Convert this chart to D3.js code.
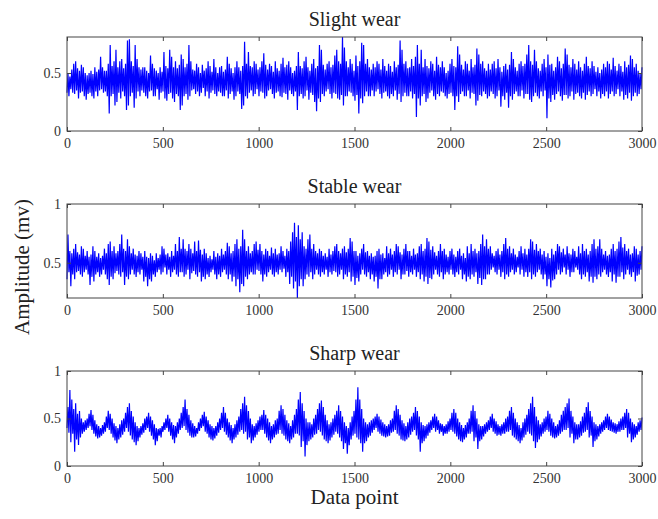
<!DOCTYPE html>
<html>
<head>
<meta charset="utf-8">
<script src="https://cdn.jsdelivr.net/npm/d3@7"></script>
<style>
    body { margin: 0; background: #fff; }
    .frame { fill: none; stroke: #444; stroke-width: 1px; }
    .axis path { display: none; }
    .axis line { stroke: #444; }
    .axis text { font-family: "Liberation Serif", serif; font-size: 14px; fill: #333; }
    .title { font-family: "Liberation Serif", serif; font-size: 20px; fill: #222; text-anchor: middle; }
    .label { font-family: "Liberation Serif", serif; font-size: 21px; fill: #222; text-anchor: middle; }
    .signal { fill: none; stroke: #0000ff; stroke-width: 1.2px; }
</style>
</head>
<body>
<svg id="chart" width="658" height="519"></svg>
<script>
    // x ticks shared by all three panels
    const xTicks = [0, 500, 1000, 1500, 2000, 2500, 3000];

    // Slight wear: min / max of each 10-point segment (one row = 200 points)
    const slightLow = [
        0.33,0.30,0.36,0.33,0.32,0.35,0.28,0.33,0.34,0.30,0.27,0.32,0.33,0.30,0.28,0.34,0.30,0.35,0.36,0.33,
        0.34,0.30,0.15,0.30,0.32,0.22,0.25,0.33,0.28,0.34,0.30,0.18,0.22,0.30,0.33,0.20,0.28,0.34,0.30,0.35,
        0.33,0.30,0.28,0.34,0.35,0.30,0.30,0.36,0.27,0.33,0.34,0.28,0.26,0.32,0.33,0.28,0.25,0.32,0.30,0.18,
        0.22,0.30,0.32,0.27,0.30,0.35,0.36,0.32,0.34,0.30,0.33,0.37,0.30,0.34,0.28,0.33,0.35,0.32,0.30,0.34,
        0.33,0.30,0.30,0.35,0.28,0.32,0.34,0.27,0.30,0.34,0.32,0.19,0.22,0.30,0.28,0.33,0.35,0.30,0.32,0.36,
        0.30,0.34,0.33,0.28,0.30,0.35,0.36,0.32,0.28,0.33,0.34,0.30,0.29,0.33,0.32,0.27,0.35,0.32,0.30,0.34,
        0.18,0.30,0.32,0.28,0.30,0.35,0.27,0.33,0.31,0.25,0.17,0.28,0.25,0.32,0.30,0.34,0.36,0.32,0.28,0.33,
        0.32,0.28,0.27,0.31,0.22,0.30,0.30,0.34,0.33,0.30,0.26,0.31,0.15,0.28,0.24,0.30,0.34,0.30,0.30,0.35,
        0.30,0.34,0.36,0.32,0.28,0.33,0.34,0.30,0.28,0.32,0.30,0.35,0.27,0.32,0.25,0.30,0.33,0.30,0.30,0.34,
        0.28,0.32,0.12,0.28,0.22,0.30,0.32,0.25,0.28,0.33,0.35,0.30,0.27,0.32,0.30,0.34,0.33,0.30,0.28,0.32,
        0.33,0.30,0.18,0.30,0.25,0.32,0.34,0.30,0.30,0.35,0.28,0.33,0.32,0.22,0.26,0.31,0.30,0.34,0.32,0.28,
        0.30,0.34,0.32,0.28,0.30,0.35,0.21,0.30,0.27,0.33,0.20,0.30,0.27,0.32,0.34,0.30,0.30,0.35,0.28,0.32,
        0.32,0.27,0.25,0.30,0.33,0.30,0.28,0.34,0.30,0.35,0.11,0.28,0.25,0.31,0.27,0.32,0.34,0.30,0.26,0.31,
        0.31,0.28,0.30,0.34,0.27,0.32,0.33,0.30,0.28,0.33,0.27,0.31,0.34,0.30,0.32,0.36,0.30,0.34,0.28,0.32,
        0.30,0.34,0.28,0.32,0.34,0.30,0.32,0.36,0.30,0.34,0.27,0.31,0.28,0.33,0.26,0.30,0.33,0.30,0.32,0.36
    ];
    const slightHigh = [
        0.50,0.47,0.53,0.58,0.60,0.54,0.52,0.57,0.55,0.50,0.48,0.50,0.52,0.49,0.55,0.51,0.53,0.64,0.55,0.52,
        0.52,0.58,0.74,0.56,0.60,0.70,0.55,0.60,0.62,0.54,0.58,0.78,0.79,0.60,0.56,0.74,0.62,0.55,0.53,0.55,
        0.55,0.52,0.50,0.65,0.58,0.54,0.52,0.50,0.55,0.51,0.68,0.56,0.54,0.70,0.64,0.55,0.60,0.54,0.57,0.66,
        0.62,0.55,0.58,0.74,0.60,0.53,0.52,0.58,0.55,0.50,0.57,0.52,0.54,0.60,0.56,0.51,0.62,0.55,0.50,0.55,
        0.56,0.51,0.53,0.64,0.58,0.54,0.50,0.55,0.60,0.55,0.52,0.56,0.77,0.58,0.68,0.56,0.55,0.60,0.58,0.53,
        0.55,0.60,0.67,0.57,0.53,0.58,0.56,0.51,0.60,0.54,0.52,0.58,0.63,0.55,0.57,0.60,0.55,0.50,0.52,0.56,
        0.68,0.56,0.54,0.60,0.64,0.55,0.52,0.58,0.62,0.54,0.56,0.74,0.70,0.57,0.53,0.58,0.60,0.55,0.57,0.65,
        0.70,0.60,0.58,0.81,0.72,0.60,0.55,0.62,0.58,0.52,0.65,0.56,0.60,0.76,0.74,0.58,0.62,0.55,0.53,0.58,
        0.55,0.60,0.58,0.53,0.62,0.56,0.52,0.58,0.56,0.51,0.60,0.55,0.57,0.78,0.70,0.58,0.60,0.54,0.55,0.62,
        0.56,0.64,0.74,0.58,0.70,0.55,0.62,0.56,0.54,0.60,0.58,0.52,0.64,0.57,0.55,0.60,0.55,0.50,0.52,0.58,
        0.62,0.56,0.55,0.73,0.66,0.57,0.53,0.60,0.58,0.52,0.62,0.55,0.57,0.71,0.66,0.58,0.60,0.54,0.52,0.58,
        0.53,0.58,0.60,0.54,0.62,0.55,0.51,0.56,0.58,0.53,0.57,0.68,0.62,0.55,0.52,0.58,0.60,0.56,0.58,0.66,
        0.74,0.60,0.57,0.70,0.60,0.54,0.52,0.58,0.62,0.55,0.66,0.57,0.58,0.52,0.55,0.64,0.60,0.54,0.58,0.71,
        0.66,0.57,0.55,0.62,0.58,0.53,0.60,0.55,0.52,0.58,0.64,0.56,0.54,0.60,0.56,0.51,0.55,0.50,0.53,0.58,
        0.55,0.60,0.58,0.53,0.63,0.56,0.52,0.58,0.56,0.51,0.60,0.55,0.57,0.65,0.62,0.55,0.58,0.52,0.50,0.55
    ];

    // Stable wear
    const stableLow = [
        0.36,0.42,0.30,0.40,0.36,0.42,0.43,0.40,0.38,0.42,0.44,0.40,0.31,0.38,0.34,0.40,0.42,0.38,0.40,0.44,
        0.40,0.36,0.31,0.38,0.36,0.41,0.43,0.40,0.38,0.42,0.31,0.38,0.36,0.40,0.44,0.40,0.38,0.42,0.40,0.44,
        0.34,0.38,0.30,0.36,0.34,0.40,0.38,0.42,0.44,0.40,0.42,0.46,0.40,0.44,0.38,0.42,0.44,0.40,0.38,0.42,
        0.42,0.38,0.40,0.44,0.36,0.41,0.43,0.40,0.38,0.42,0.34,0.38,0.36,0.40,0.38,0.42,0.44,0.40,0.36,0.40,
        0.38,0.42,0.44,0.40,0.36,0.40,0.34,0.38,0.30,0.36,0.25,0.32,0.30,0.38,0.36,0.40,0.42,0.40,0.40,0.44,
        0.43,0.40,0.34,0.40,0.38,0.42,0.44,0.40,0.38,0.42,0.40,0.44,0.42,0.45,0.38,0.42,0.32,0.38,0.28,0.34,
        0.20,0.30,0.36,0.30,0.36,0.40,0.38,0.42,0.36,0.40,0.44,0.40,0.38,0.42,0.40,0.44,0.38,0.42,0.40,0.43,
        0.42,0.38,0.40,0.44,0.36,0.40,0.38,0.42,0.34,0.38,0.31,0.37,0.34,0.40,0.44,0.40,0.38,0.42,0.36,0.40,
        0.34,0.38,0.28,0.36,0.36,0.40,0.42,0.38,0.40,0.44,0.38,0.42,0.40,0.44,0.36,0.40,0.40,0.43,0.38,0.42,
        0.40,0.44,0.38,0.42,0.36,0.40,0.34,0.38,0.32,0.37,0.36,0.40,0.44,0.40,0.38,0.42,0.36,0.40,0.42,0.40,
        0.44,0.40,0.38,0.42,0.40,0.44,0.36,0.40,0.34,0.38,0.36,0.40,0.38,0.42,0.32,0.37,0.31,0.36,0.36,0.40,
        0.40,0.44,0.46,0.42,0.40,0.44,0.38,0.42,0.36,0.40,0.38,0.42,0.44,0.40,0.42,0.46,0.40,0.44,0.38,0.42,
        0.38,0.42,0.36,0.40,0.38,0.42,0.44,0.40,0.36,0.40,0.30,0.36,0.29,0.35,0.36,0.40,0.44,0.40,0.42,0.46,
        0.40,0.44,0.38,0.42,0.42,0.46,0.44,0.40,0.36,0.40,0.38,0.42,0.34,0.38,0.33,0.38,0.36,0.40,0.38,0.42,
        0.44,0.40,0.38,0.42,0.34,0.40,0.33,0.38,0.38,0.42,0.36,0.40,0.44,0.40,0.38,0.42,0.34,0.39,0.40,0.44
    ];
    const stableHigh = [
        0.74,0.60,0.58,0.62,0.66,0.59,0.57,0.64,0.62,0.56,0.60,0.55,0.57,0.64,0.60,0.55,0.58,0.54,0.56,0.62,
        0.58,0.66,0.68,0.60,0.64,0.58,0.60,0.66,0.74,0.62,0.60,0.70,0.64,0.58,0.62,0.57,0.56,0.60,0.58,0.55,
        0.60,0.55,0.54,0.58,0.56,0.52,0.58,0.54,0.57,0.64,0.62,0.57,0.58,0.55,0.60,0.56,0.66,0.60,0.72,0.62,
        0.70,0.62,0.60,0.66,0.62,0.58,0.68,0.60,0.69,0.61,0.57,0.62,0.58,0.54,0.56,0.53,0.60,0.55,0.58,0.56,
        0.62,0.57,0.60,0.67,0.64,0.58,0.60,0.66,0.70,0.62,0.64,0.78,0.70,0.60,0.64,0.58,0.60,0.66,0.68,0.61,
        0.66,0.60,0.57,0.62,0.60,0.56,0.63,0.58,0.62,0.57,0.58,0.64,0.60,0.56,0.62,0.60,0.68,0.76,0.84,0.72,
        0.82,0.70,0.76,0.64,0.62,0.70,0.74,0.62,0.66,0.60,0.58,0.62,0.60,0.56,0.58,0.55,0.62,0.57,0.60,0.64,
        0.66,0.60,0.58,0.62,0.64,0.59,0.62,0.71,0.68,0.60,0.60,0.56,0.58,0.62,0.66,0.59,0.60,0.56,0.58,0.55,
        0.56,0.60,0.62,0.57,0.58,0.54,0.64,0.58,0.62,0.57,0.60,0.66,0.64,0.59,0.57,0.62,0.66,0.60,0.60,0.56,
        0.62,0.57,0.58,0.64,0.66,0.60,0.62,0.71,0.68,0.61,0.64,0.59,0.56,0.60,0.66,0.60,0.62,0.57,0.55,0.60,
        0.62,0.57,0.55,0.60,0.62,0.56,0.58,0.54,0.64,0.58,0.66,0.60,0.62,0.58,0.60,0.66,0.74,0.64,0.70,0.62,
        0.64,0.58,0.56,0.60,0.62,0.57,0.60,0.66,0.71,0.62,0.64,0.58,0.62,0.57,0.55,0.60,0.64,0.58,0.62,0.57,
        0.62,0.70,0.68,0.61,0.66,0.60,0.62,0.57,0.60,0.55,0.58,0.54,0.62,0.57,0.60,0.66,0.64,0.59,0.62,0.57,
        0.64,0.58,0.57,0.62,0.60,0.55,0.64,0.58,0.66,0.60,0.62,0.57,0.60,0.66,0.70,0.62,0.64,0.70,0.62,0.57,
        0.60,0.56,0.57,0.62,0.66,0.60,0.62,0.68,0.72,0.63,0.66,0.60,0.62,0.57,0.58,0.64,0.62,0.57,0.60,0.64
    ];

    // Sharp wear
    const sharpLow = [
        0.40,0.35,0.25,0.34,0.15,0.28,0.22,0.30,0.34,0.36,0.38,0.40,0.42,0.38,0.34,0.31,0.29,0.30,0.32,0.34,
        0.36,0.40,0.38,0.34,0.30,0.27,0.24,0.28,0.30,0.33,0.36,0.40,0.36,0.32,0.28,0.25,0.22,0.26,0.30,0.33,
        0.35,0.38,0.40,0.36,0.32,0.28,0.22,0.26,0.32,0.30,0.36,0.38,0.40,0.36,0.32,0.28,0.24,0.30,0.34,0.38,
        0.40,0.42,0.38,0.35,0.32,0.30,0.30,0.31,0.34,0.37,0.40,0.42,0.36,0.34,0.30,0.28,0.27,0.29,0.32,0.35,
        0.38,0.40,0.36,0.33,0.30,0.27,0.24,0.28,0.30,0.33,0.36,0.38,0.34,0.36,0.28,0.30,0.24,0.27,0.30,0.33,
        0.36,0.38,0.38,0.34,0.30,0.27,0.24,0.28,0.30,0.33,0.34,0.38,0.34,0.32,0.28,0.26,0.24,0.28,0.30,0.34,
        0.34,0.32,0.20,0.26,0.10,0.22,0.26,0.28,0.30,0.33,0.34,0.38,0.36,0.32,0.28,0.26,0.24,0.27,0.30,0.33,
        0.36,0.34,0.30,0.26,0.18,0.24,0.13,0.22,0.28,0.32,0.34,0.30,0.28,0.24,0.15,0.24,0.26,0.30,0.32,0.35,
        0.38,0.40,0.36,0.34,0.32,0.31,0.30,0.31,0.32,0.35,0.36,0.38,0.34,0.32,0.28,0.27,0.26,0.28,0.30,0.33,
        0.36,0.38,0.32,0.28,0.15,0.24,0.26,0.29,0.32,0.35,0.38,0.40,0.36,0.38,0.34,0.36,0.32,0.34,0.34,0.36,
        0.38,0.36,0.34,0.31,0.28,0.26,0.25,0.28,0.30,0.34,0.34,0.36,0.26,0.30,0.18,0.26,0.28,0.31,0.34,0.36,
        0.38,0.40,0.36,0.34,0.32,0.33,0.32,0.34,0.34,0.36,0.36,0.38,0.32,0.30,0.28,0.26,0.24,0.27,0.30,0.33,
        0.36,0.34,0.32,0.26,0.19,0.25,0.28,0.31,0.34,0.36,0.38,0.36,0.32,0.30,0.29,0.30,0.32,0.34,0.36,0.38,
        0.38,0.40,0.30,0.34,0.24,0.28,0.28,0.30,0.32,0.35,0.36,0.38,0.30,0.32,0.20,0.26,0.28,0.31,0.34,0.36,
        0.38,0.40,0.38,0.37,0.36,0.35,0.34,0.36,0.36,0.38,0.38,0.40,0.30,0.34,0.25,0.28,0.30,0.33,0.36,0.38
    ];
    const sharpHigh = [
        0.62,0.80,0.70,0.60,0.66,0.55,0.58,0.50,0.46,0.48,0.50,0.55,0.59,0.54,0.48,0.44,0.42,0.40,0.43,0.46,
        0.52,0.58,0.55,0.50,0.45,0.42,0.40,0.44,0.48,0.50,0.56,0.62,0.66,0.58,0.52,0.46,0.42,0.40,0.42,0.45,
        0.50,0.52,0.56,0.52,0.48,0.44,0.40,0.39,0.40,0.42,0.46,0.50,0.54,0.50,0.46,0.43,0.42,0.46,0.50,0.56,
        0.62,0.70,0.60,0.54,0.48,0.45,0.42,0.40,0.46,0.50,0.54,0.57,0.52,0.48,0.44,0.42,0.40,0.42,0.46,0.50,
        0.56,0.62,0.56,0.50,0.46,0.43,0.40,0.44,0.48,0.52,0.60,0.66,0.73,0.64,0.58,0.50,0.44,0.42,0.45,0.48,
        0.52,0.54,0.59,0.54,0.50,0.46,0.42,0.44,0.48,0.50,0.58,0.64,0.60,0.54,0.48,0.45,0.42,0.48,0.54,0.60,
        0.70,0.78,0.66,0.58,0.50,0.46,0.46,0.44,0.50,0.54,0.60,0.66,0.69,0.62,0.54,0.48,0.44,0.46,0.50,0.54,
        0.58,0.64,0.58,0.52,0.46,0.42,0.40,0.46,0.52,0.58,0.70,0.83,0.70,0.60,0.50,0.46,0.44,0.46,0.48,0.50,
        0.52,0.55,0.52,0.49,0.46,0.44,0.42,0.44,0.48,0.50,0.58,0.64,0.60,0.54,0.48,0.45,0.42,0.46,0.50,0.52,
        0.56,0.62,0.58,0.52,0.46,0.43,0.42,0.44,0.46,0.48,0.52,0.55,0.52,0.48,0.45,0.44,0.42,0.44,0.47,0.50,
        0.56,0.60,0.56,0.50,0.46,0.43,0.40,0.43,0.46,0.50,0.58,0.64,0.58,0.50,0.44,0.42,0.42,0.44,0.46,0.48,
        0.52,0.55,0.50,0.47,0.44,0.42,0.44,0.46,0.50,0.52,0.58,0.62,0.56,0.50,0.46,0.43,0.40,0.46,0.50,0.54,
        0.60,0.66,0.73,0.62,0.52,0.48,0.44,0.46,0.50,0.52,0.58,0.55,0.50,0.46,0.42,0.44,0.48,0.54,0.58,0.62,
        0.66,0.71,0.58,0.52,0.46,0.44,0.44,0.47,0.52,0.56,0.62,0.67,0.58,0.52,0.46,0.44,0.42,0.44,0.46,0.48,
        0.52,0.55,0.52,0.49,0.46,0.45,0.44,0.47,0.50,0.52,0.56,0.60,0.56,0.50,0.46,0.44,0.42,0.46,0.48,0.51
    ];

    const panels = [
        { title: "Slight wear", low: slightLow, high: slightHigh, domain: [0, 0.81], yTicks: [0, 0.5], top: 37, bottom: 131 },
        { title: "Stable wear", low: stableLow, high: stableHigh, domain: [0.2, 1], yTicks: [0.5, 1], top: 204, bottom: 298 },
        { title: "Sharp wear", low: sharpLow, high: sharpHigh, domain: [0, 1], yTicks: [0, 0.5, 1], top: 371, bottom: 466 }
    ];

    const svg = d3.select("#chart");
    const left = 67, right = 642;
    const tick = 4;

    const x = d3.scaleLinear().domain([0, 3000]).range([left, right]);

    panels.forEach(p => {
        const y = d3.scaleLinear().domain(p.domain).range([p.bottom, p.top]);
        const g = svg.append("g");

        // signal: min then max of every segment, in order
        const pts = [];
        const n = p.low.length;
        const step = 3000 / (2 * n - 1);
        p.low.forEach((v, i) => {
            pts.push([2 * i * step, v]);
            pts.push([(2 * i + 1) * step, p.high[i]]);
        });
        g.append("path")
            .attr("class", "signal")
            .attr("d", d3.line().x(d => x(d[0])).y(d => y(d[1]))(pts));

        // axes, ticks pointing inward like MATLAB
        g.append("g")
            .attr("class", "axis")
            .attr("transform", `translate(0,${p.bottom})`)
            .call(d3.axisBottom(x).tickValues(xTicks).tickFormat(d => d)
                .tickSizeInner(-tick).tickSizeOuter(0).tickPadding(7));
        g.append("g")
            .attr("class", "axis")
            .attr("transform", `translate(0,${p.top})`)
            .call(d3.axisTop(x).tickValues(xTicks).tickFormat("")
                .tickSizeInner(-tick).tickSizeOuter(0));
        g.append("g")
            .attr("class", "axis")
            .attr("transform", `translate(${left},0)`)
            .call(d3.axisLeft(y).tickValues(p.yTicks).tickFormat(d => d)
                .tickSizeInner(-tick).tickSizeOuter(0).tickPadding(6));
        g.append("g")
            .attr("class", "axis")
            .attr("transform", `translate(${right},0)`)
            .call(d3.axisRight(y).tickValues(p.yTicks).tickFormat("")
                .tickSizeInner(-tick).tickSizeOuter(0));

        g.append("rect")
            .attr("class", "frame")
            .attr("x", left)
            .attr("y", p.top)
            .attr("width", right - left)
            .attr("height", p.bottom - p.top);

        g.append("text")
            .attr("class", "title")
            .attr("x", (left + right) / 2)
            .attr("y", p.top - 11)
            .text(p.title);
    });

    svg.append("text")
        .attr("class", "label")
        .attr("x", (left + right) / 2)
        .attr("y", 504)
        .text("Data point");

    svg.append("text")
        .attr("class", "label")
        .attr("transform", "translate(29,267) rotate(-90)")
        .text("Amplitude (mv)");
</script>
</body>
</html>
